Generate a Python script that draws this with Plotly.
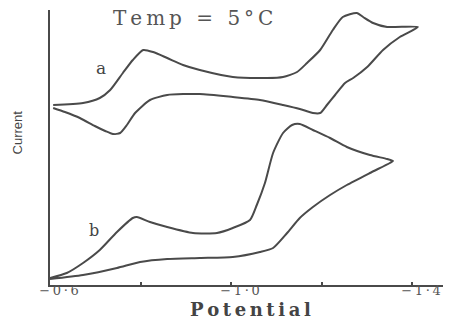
import plotly.graph_objects as go

# Curve a (Temp = 5 C): forward (cathodic) scan then reverse scan, arbitrary current units
a_pot = [-0.607, -0.673, -0.710, -0.733, -0.761, -0.783, -0.806, -0.828, -0.859, -0.894,
         -0.931, -1.004, -1.080, -1.115, -1.146, -1.168, -1.197, -1.225, -1.247, -1.278,
         -1.292, -1.314, -1.345, -1.413,
         -1.373, -1.336, -1.301, -1.270, -1.252, -1.230, -1.212, -1.197, -1.181, -1.152,
         -1.115, -1.064, -1.004, -0.931, -0.859, -0.821, -0.788, -0.770, -0.755, -0.739,
         -0.722, -0.699, -0.666, -0.633, -0.607]
a_cur = [180, 182, 187, 195, 212, 225, 235, 233, 227, 220,
         215, 208, 207, 208, 213, 222, 235, 255, 268, 272,
         268, 262, 258, 258,
         248, 235, 218, 207, 202, 190, 180, 172, 172, 176,
         180, 185, 188, 191, 190, 185, 172, 160, 152, 151,
         154, 159, 167, 173, 177]

# Curve b
b_pot = [-0.600, -0.637, -0.673, -0.710, -0.748, -0.783, -0.792, -0.821, -0.859, -0.916,
         -0.969, -1.004, -1.042, -1.057, -1.075, -1.093, -1.115, -1.135, -1.152, -1.181,
         -1.219, -1.256, -1.307, -1.345, -1.358,
         -1.351, -1.307, -1.256, -1.219, -1.181, -1.152, -1.124, -1.093, -1.064, -1.004,
         -0.931, -0.859, -0.799, -0.748, -0.673, -0.600]
b_cur = [7, 12, 22, 35, 53, 67, 68, 63, 58, 52,
         52, 57, 65, 80, 102, 132, 152, 160, 161, 155,
         147, 138, 130, 126, 124,
         122, 112, 100, 90, 78, 67, 52, 37, 33, 28,
         27, 26, 23, 17, 10, 6]

T = "\u2009"  # thin space, used as letter spacing
tick_vals = [-0.6, -0.8, -1.0, -1.2, -1.4]
tick_text = [T.join("\u22120\u00b76"), "", T.join("\u22121\u00b70"), "", T.join("\u22121\u00b74")]

ink = "#4a4a4a"
fig = go.Figure()
fig.add_trace(go.Scatter(x=a_pot, y=a_cur, mode="lines",
                         line=dict(color=ink, width=2, shape="spline", smoothing=0.6),
                         hoverinfo="skip"))
fig.add_trace(go.Scatter(x=b_pot, y=b_cur, mode="lines",
                         line=dict(color=ink, width=2, shape="spline", smoothing=0.6),
                         hoverinfo="skip"))

fig.update_layout(
    width=450, height=321,
    margin=dict(l=50, r=7, t=10, b=36),
    paper_bgcolor="white", plot_bgcolor="white",
    showlegend=False,
    xaxis=dict(range=[-0.6, -1.4685], showgrid=False, zeroline=False,
               showline=True, linecolor=ink, linewidth=2,
               ticks="inside", ticklen=3, tickwidth=2, tickcolor=ink,
               tickvals=tick_vals, ticktext=tick_text, ticklabelshift=-9,
               ticklabelstandoff=-8,
               tickfont=dict(family="DejaVu Serif", size=13, color="#555")),
    yaxis=dict(range=[0, 275], showgrid=False, zeroline=False,
               showline=True, linecolor=ink, linewidth=2,
               showticklabels=False, ticks=""),
    annotations=[
        dict(text=T.join("Potential"), xref="paper", yref="paper", x=0.511, y=-0.09,
             showarrow=False, xanchor="center", yanchor="middle",
             font=dict(family="DejaVu Serif", size=18, color="#444", weight="bold")),
        dict(text="Current", xref="paper", yref="paper", x=-0.083, y=0.556,
             showarrow=False, textangle=-90, xanchor="center", yanchor="middle",
             font=dict(family="Liberation Sans", size=13, color="#444")),
        dict(text=T.join("Temp = 5\u00b0C"), xref="paper", yref="paper",
             x=0.364, y=0.971, showarrow=False, xanchor="center", yanchor="middle",
             font=dict(family="DejaVu Serif", size=20, color="#555")),
        dict(text="a", x=-0.712, y=217, showarrow=False,
             font=dict(family="DejaVu Serif", size=17, color="#444")),
        dict(text="b", x=-0.697, y=55, showarrow=False,
             font=dict(family="DejaVu Serif", size=16, color="#444")),
    ],
)

fig.write_html("out.html")
